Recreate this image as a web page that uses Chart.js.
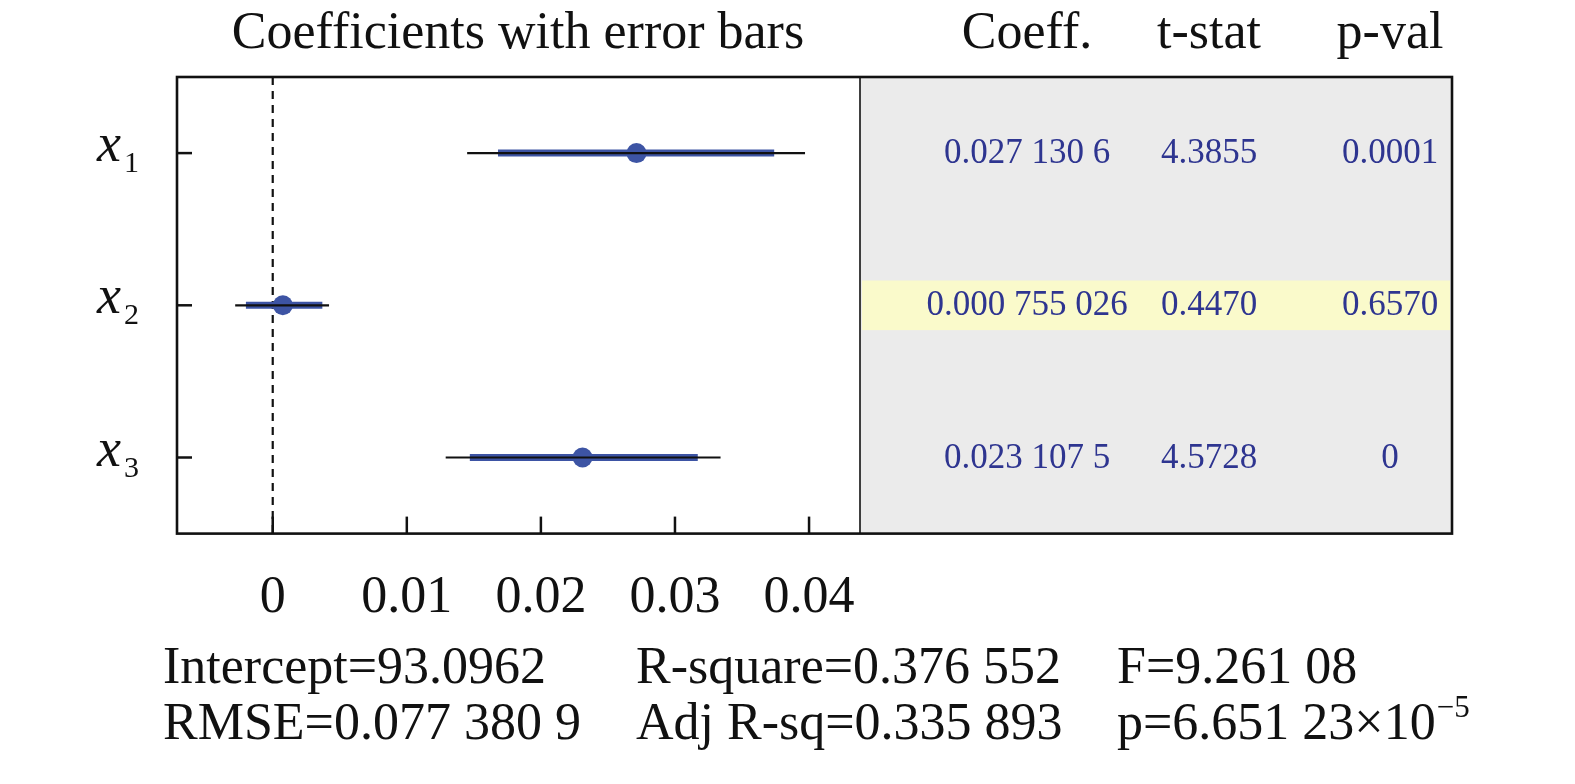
<!DOCTYPE html>
<html>
<head>
<meta charset="utf-8">
<script src="https://cdn.jsdelivr.net/npm/chart.js@4.4.1/dist/chart.umd.min.js"></script>
<style>
  html, body { margin: 0; padding: 0; background: #fff; overflow: hidden; }
  #wrap { width: 1575px; height: 784px; }
  canvas { display: block; }
</style>
</head>
<body>
<div id="wrap"><canvas id="chartCanvas" width="1575" height="784"></canvas></div>
<script>
// datos
const rowNames = ['1', '2', '3'];            // subindices de x
const coeffs = [0.0271306, 0.000755026, 0.0231075];
const ciLow95 = [0.0145, -0.0028, 0.0129];   // barra fina negra
const ciHigh95 = [0.0397, 0.0042, 0.0334];
const ciLow = [0.0168, -0.0020, 0.0147];     // barra gruesa azul
const ciHigh = [0.0374, 0.0037, 0.0317];
const coeffText = ['0.027 130 6', '0.000 755 026', '0.023 107 5'];
const tStats = ['4.3855', '0.4470', '4.5728'];
const pVals = ['0.0001', '0.6570', '0'];
const highlightRow = 1;                      // fila no significativa
const xTicks = [0, 0.01, 0.02, 0.03, 0.04];
const statsRow1 = ['Intercept=93.0962', 'R-square=0.376 552', 'F=9.261 08'];
const statsRow2 = ['RMSE=0.077 380 9', 'Adj R-sq=0.335 893', 'p=6.651 23\u00d710'];

const SERIF = "'Liberation Serif', 'Times New Roman', serif";
const BLUE = '#3d54a4';
const TXT_BLUE = '#2e3590';

// construir datasets: linea fina, linea gruesa, punto
const datasets = [];
coeffs.forEach((c, i) => {
    const y = i + 1;
    datasets.push({
        type: 'line', showLine: true, pointRadius: 0, borderColor: '#111',
        borderWidth: 2.2, borderCapStyle: 'butt',
        data: [{ x: ciLow95[i], y: y }, { x: ciHigh95[i], y: y }]
    });
    datasets.push({
        type: 'line', showLine: true, pointRadius: 0, borderColor: BLUE,
        borderWidth: 7, borderCapStyle: 'butt',
        data: [{ x: ciLow[i], y: y }, { x: ciHigh[i], y: y }]
    });
});
datasets.push({
    type: 'scatter', pointRadius: 10, pointBackgroundColor: BLUE,
    pointBorderWidth: 0, data: coeffs.map((c, i) => ({ x: c, y: i + 1 }))
});

// plugin para el panel, marco, textos
const decor = {
    id: 'decor',
    beforeDatasetsDraw(chart) {
        const { ctx, chartArea: a, scales: { x, y } } = chart;
        const panelRight = 1452;
        ctx.save();
        // panel gris de la tabla
        ctx.fillStyle = '#ebebeb';
        ctx.fillRect(a.right, a.top, panelRight - a.right, a.bottom - a.top);
        // fila resaltada
        const yTop = y.getPixelForValue(highlightRow + 1 - 0.163);
        const yBot = y.getPixelForValue(highlightRow + 1 + 0.163);
        ctx.fillStyle = '#fafacb';
        ctx.fillRect(a.right + 2, yTop, panelRight - a.right - 4, yBot - yTop);
        // linea discontinua en cero
        const x0 = x.getPixelForValue(0);
        ctx.strokeStyle = '#111';
        ctx.lineWidth = 2.2;
        ctx.setLineDash([8, 6]);
        ctx.beginPath();
        ctx.moveTo(x0, a.top);
        ctx.lineTo(x0, a.bottom);
        ctx.stroke();
        ctx.setLineDash([]);
        // marcas de los ejes hacia dentro
        ctx.lineWidth = 2.5;
        xTicks.forEach(v => {
            const px = x.getPixelForValue(v);
            ctx.beginPath();
            ctx.moveTo(px, a.bottom);
            ctx.lineTo(px, a.bottom - 17);
            ctx.stroke();
        });
        rowNames.forEach((n, i) => {
            const py = y.getPixelForValue(i + 1);
            ctx.beginPath();
            ctx.moveTo(a.left, py);
            ctx.lineTo(a.left + 15, py);
            ctx.stroke();
        });
        ctx.restore();
    },
    afterDraw(chart) {
        const { ctx, chartArea: a, scales: { x, y } } = chart;
        const panelRight = 1452;
        ctx.save();
        // marco
        ctx.strokeStyle = '#111';
        ctx.lineWidth = 1.6;
        ctx.beginPath();
        ctx.moveTo(a.right, a.top);
        ctx.lineTo(a.right, a.bottom);
        ctx.stroke();
        ctx.lineWidth = 2.6;
        ctx.strokeRect(a.left, a.top, panelRight - a.left, a.bottom - a.top);

        // etiquetas del eje y: x con subindice
        ctx.fillStyle = '#111';
        ctx.textBaseline = 'alphabetic';
        rowNames.forEach((n, i) => {
            const py = y.getPixelForValue(i + 1);
            ctx.textAlign = 'left';
            ctx.font = 'italic 54px ' + SERIF;
            ctx.fillText('x', 97, py + 8);
            ctx.font = '30px ' + SERIF;
            ctx.fillText(n, 124, py + 19);
        });

        // titulos
        ctx.font = '52px ' + SERIF;
        ctx.textAlign = 'center';
        ctx.fillText('Coefficients with error bars', 518, 48);
        const cols = [1027, 1209, 1390];
        ctx.fillText('Coeff.', cols[0], 48);
        ctx.fillText('t-stat', cols[1], 48);
        ctx.fillText('p-val', cols[2], 48);

        // valores de la tabla
        ctx.font = '35px ' + SERIF;
        ctx.fillStyle = TXT_BLUE;
        ctx.textBaseline = 'middle';
        coeffs.forEach((c, i) => {
            const py = y.getPixelForValue(i + 1);
            ctx.fillText(coeffText[i], cols[0], py + 1);
            ctx.fillText(tStats[i], cols[1], py + 1);
            ctx.fillText(pVals[i], cols[2], py + 1);
        });

        // estadisticos abajo
        ctx.fillStyle = '#111';
        ctx.textBaseline = 'alphabetic';
        ctx.textAlign = 'left';
        ctx.font = '52px ' + SERIF;
        const sx = [163, 636, 1117];
        statsRow1.forEach((t, i) => ctx.fillText(t, sx[i], 683));
        statsRow2.forEach((t, i) => ctx.fillText(t, sx[i], 739));
        const w = ctx.measureText(statsRow2[2]).width;
        ctx.font = '31px ' + SERIF;
        ctx.fillText('\u22125', sx[2] + w + 1, 717);
        ctx.restore();
    }
};

const ctx = document.getElementById('chartCanvas').getContext('2d');
const chart = new Chart(ctx, {
    type: 'scatter',
    data: { datasets: datasets },
    options: {
        responsive: false,
        animation: false,
        layout: { padding: { left: 177, right: 715, top: 77, bottom: 120 } },
        plugins: { legend: { display: false }, tooltip: { enabled: false } },
        scales: {
            x: {
                type: 'linear', min: -0.00714, max: 0.0438,
                afterBuildTicks: s => { s.ticks = xTicks.map(v => ({ value: v })); },
                ticks: {
                    color: '#111', padding: 34,
                    font: { family: SERIF, size: 52 },
                    callback: v => v === 0 ? '0' : v.toFixed(2)
                },
                grid: { display: false, drawTicks: false },
                border: { display: false }
            },
            y: {
                type: 'linear', min: 0.5, max: 3.5, reverse: true,
                ticks: { display: false },
                grid: { display: false, drawTicks: false },
                border: { display: false }
            }
        }
    },
    plugins: [decor]
});
</script>
</body>
</html>
